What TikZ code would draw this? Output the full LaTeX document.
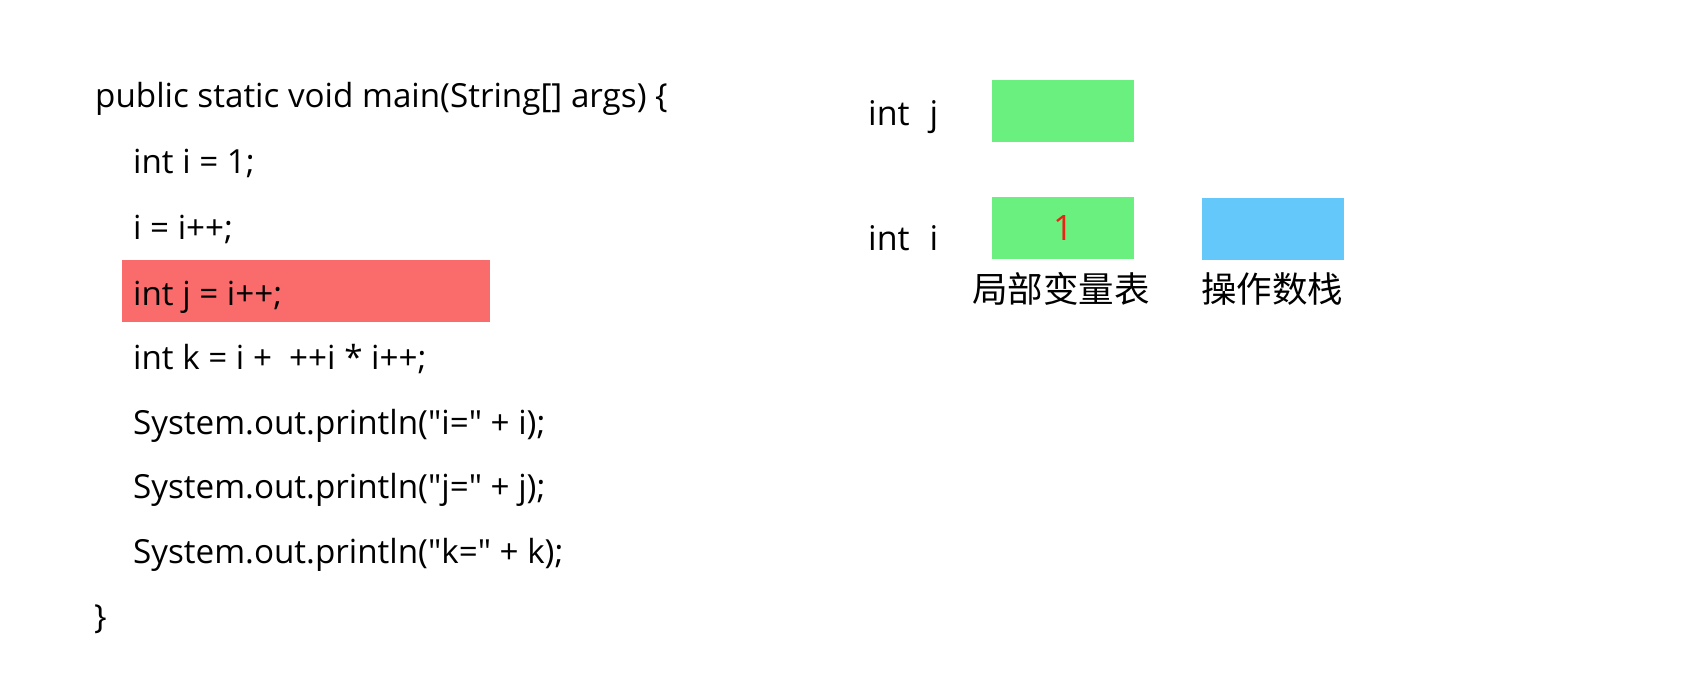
\documentclass[tikz,border=0pt]{standalone}
\usepackage{fontspec}
\setmainfont{Open Sans}
\newfontfamily\codefont{Open Sans}
\newfontfamily\cjk{Noto Sans CJK SC}
\definecolor{grn}{RGB}{106,240,126}
\definecolor{blu}{RGB}{100,200,250}
\definecolor{hl}{RGB}{250,108,108}
\definecolor{numred}{RGB}{235,35,20}
\begin{document}
\begin{tikzpicture}[x=1pt,y=-1pt,
  code/.style={anchor=base west,inner sep=0,font=\codefont\fontsize{33.2}{38}\selectfont},
  lab/.style={anchor=base west,inner sep=0,font=\codefont\fontsize{34}{39}\selectfont},
  cjklab/.style={anchor=base west,inner sep=0,font=\cjk\fontsize{35.5}{40}\selectfont},
  cell/.style={rectangle,inner sep=0,minimum width=142pt,minimum height=62pt,anchor=north west}]
\useasboundingbox (0,0) rectangle (1686,680);
\fill[white] (0,0) rectangle (1686,680);
\node[fill=hl,rectangle,inner sep=0,minimum width=368pt,minimum height=62pt,anchor=north west] (hlbox) at (122,260) {};
\node[code] (l1) at (95,107) {public static void main(String[] args) \{};
\node[code] (l2) at (133,173) {int i = 1;};
\node[code] (l3) at (133,239) {i = i++;};
\node[code] (l4) at (133,305) {int j = i++;};
\node[code] (l5) at (133,369.5) {int k = i + \ ++i * i++;};
\node[code] (l6) at (133,434) {System.out.println("i=" + i);};
\node[code] (l7) at (133,498.5) {System.out.println("j=" + j);};
\node[code] (l8) at (133,563) {System.out.println("k=" + k);};
\node[code] (l9) at (94,628) {\}};
\node[lab] (lj) at (868,125) {int\hspace{20pt}j};
\node[lab] (li) at (868,250) {int\hspace{20pt}i};
\node[cell,fill=grn] (jbox) at (992,80) {};
\node[cell,fill=grn] (ibox) at (992,197) {};
\node[cell,fill=blu] (sbox) at (1202,198) {};
\node[inner sep=0,font=\codefont\fontsize{35}{40}\selectfont,text=numred] (one) at (ibox.center) {1};
\node[cjklab] (t1) at (972,302) {局部变量表};
\node[cjklab] (t2) at (1201,302) {操作数栈};
\end{tikzpicture}
\end{document}
